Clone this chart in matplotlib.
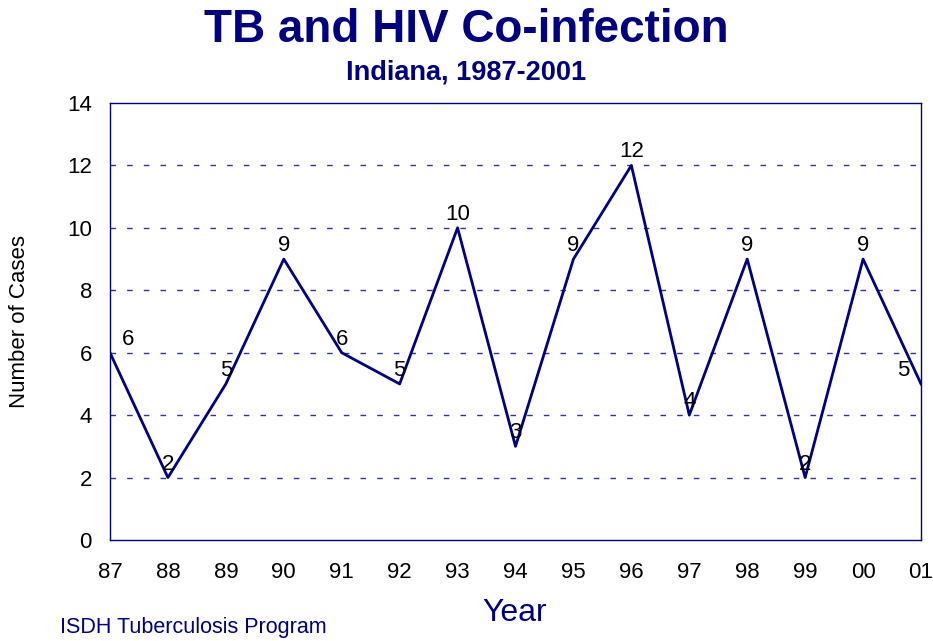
import matplotlib.pyplot as plt

# TB/HIV co-infection cases, Indiana
years = ['87', '88', '89', '90', '91', '92', '93', '94', '95', '96',
         '97', '98', '99', '00', '01']
cases = [6, 2, 5, 9, 6, 5, 10, 3, 9, 12, 4, 9, 2, 9, 5]
yticks = [0, 2, 4, 6, 8, 10, 12, 14]

navy = '#000080'
plt.rcParams['font.family'] = ['Liberation Sans', 'DejaVu Sans']

fig = plt.figure(figsize=(9.33, 6.41), dpi=100)
ax = fig.add_axes([110 / 933, 101 / 641, 811 / 933, 437 / 641])

x = list(range(len(years)))
ax.plot(x, cases, color=navy, lw=2, zorder=3)

# value labels, first and last pushed inward
for i, v in enumerate(cases):
    dx = 0
    if i == 0:
        dx = 18
    elif i == len(cases) - 1:
        dx = -18
    ax.annotate(str(v), (i, v), xytext=(dx, 8), textcoords='offset pixels',
                ha='center', va='baseline', fontsize=16, color='black', zorder=4)

ax.set_xlim(0, len(years) - 1)
ax.set_ylim(0, 14)
ax.set_xticks(x)
ax.set_xticklabels(years)
ax.set_yticks(yticks)
ax.tick_params(length=0, labelsize=16)
ax.tick_params(axis='x', pad=16)
ax.tick_params(axis='y', pad=13)

for yv in yticks[1:-1]:
    ax.axhline(yv, color=navy, lw=1, ls=(0, (4, 8)), alpha=0.8, zorder=1)

for s in ax.spines.values():
    s.set_color(navy)
    s.set_linewidth(1)

ax.set_ylabel('Number of Cases', fontsize=16)
ax.yaxis.set_label_coords(-80 / 811, 0.5)
ax.set_xlabel('Year', fontsize=23, color=navy)
ax.xaxis.set_label_coords(405 / 811, -58 / 437)

fig.text(0.5, 1 - 30 / 641, 'TB and HIV Co-infection', ha='center', va='center',
         fontsize=33, fontweight='bold', color=navy)
fig.text(0.5, 1 - 72 / 641, 'Indiana, 1987-2001', ha='center', va='center',
         fontsize=19.5, fontweight='bold', color=navy)
fig.text(60 / 933, 1 - 628 / 641, 'ISDH Tuberculosis Program', ha='left', va='center',
         fontsize=15.5, color=navy)

fig.savefig('out.png', dpi=100)
